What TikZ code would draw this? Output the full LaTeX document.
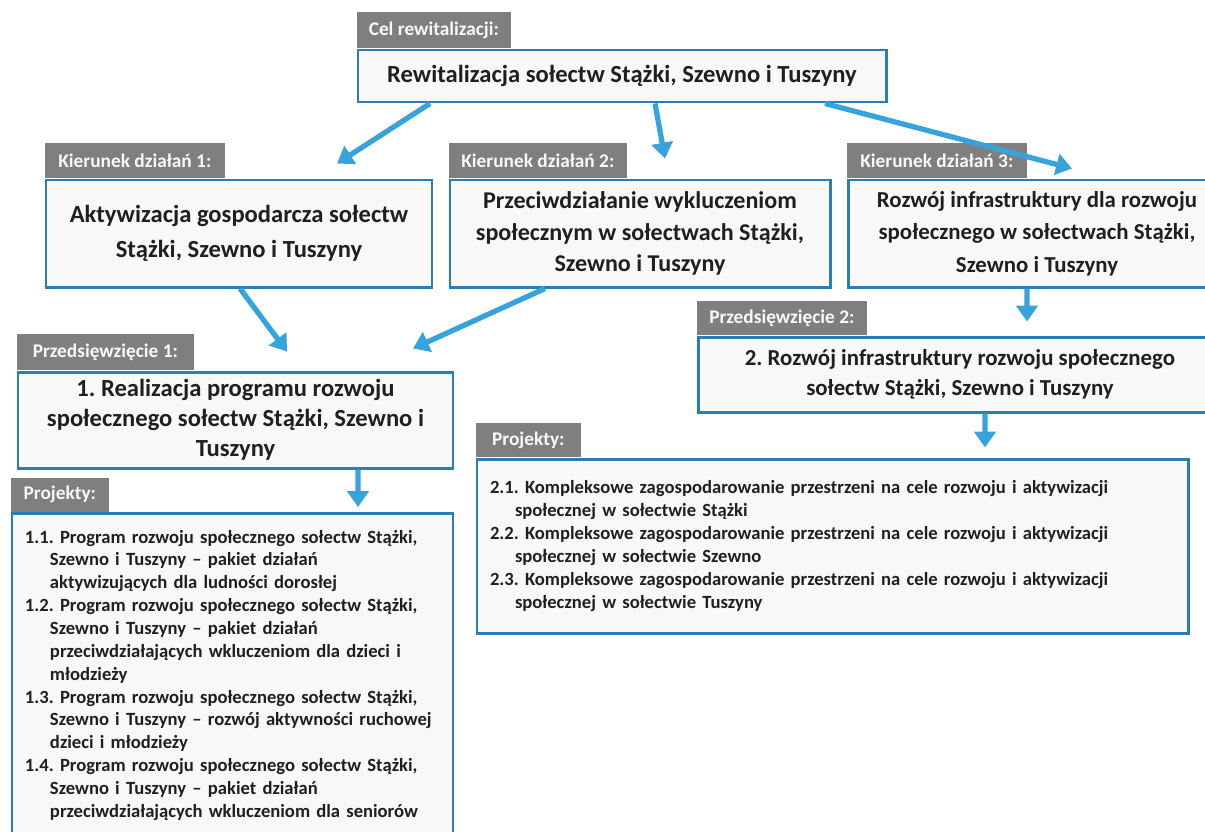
\documentclass[tikz,border=0pt]{standalone}
\usepackage{fontspec}
\setmainfont{Carlito}
\usetikzlibrary{arrows.meta, positioning}

\definecolor{frameblue}{HTML}{2B7DB5}
\definecolor{arrowblue}{HTML}{36A3DD}
\definecolor{taggray}{HTML}{7F7F7F}
\definecolor{boxfill}{HTML}{F8F8F8}

\tikzset{
  goal/.style={draw=frameblue, line width=1.7pt, fill=boxfill, align=center,
    inner sep=2pt, text=black!88, font=\bfseries\fontsize{14}{18}\selectfont},
  tag/.style={fill=taggray, text=white!95!gray, anchor=south west, inner sep=0pt,
    font=\bfseries\fontsize{11}{13}\selectfont},
  plist/.style={goal, align=left, inner xsep=0.26cm, inner ysep=0.33cm,
    font=\bfseries\fontsize{10.6}{13}\selectfont},
}
\newcommand{\hang}{\hangindent=0.5cm\hangafter=1 }
\frenchspacing

\begin{document}
\begin{tikzpicture}[>={Triangle[width=12pt,length=9pt]},
  link/.style={->, color=arrowblue, line width=3pt}]
\clip (0,0) rectangle (24.1,-16.62);

% the goal and the three directions
  \node[goal, minimum width=10.56cm, minimum height=1.04cm] (cel) at (12.44,-1.52)
{Rewitalizacja sołectw Stążki, Szewno i Tuszyny};
  \node[goal, minimum width=7.72cm, minimum height=2.14cm,
    font=\bfseries\fontsize{14}{19.5}\selectfont] (kd1) at (4.78,-4.67)
{Aktywizacja gospodarcza sołectw\\ Stążki, Szewno i Tuszyny};
  \node[goal, minimum width=7.6cm, minimum height=2.14cm,
    font=\bfseries\fontsize{13.7}{18}\selectfont] (kd2) at (12.8,-4.67)
{Przeciwdziałanie wykluczeniom\\ społecznym w sołectwach Stążki,\\ Szewno i Tuszyny};
  \node[goal, minimum width=7.56cm, minimum height=2.14cm,
    font=\bfseries\fontsize{13}{18.5}\selectfont] (kd3) at (20.74,-4.67)
{Rozwój infrastruktury dla rozwoju\\ społecznego w sołectwach Stążki,\\ Szewno i Tuszyny};

% the two undertakings
  \node[goal, minimum width=8.7cm, minimum height=1.92cm,
    font=\bfseries\fontsize{14}{17}\selectfont] (p1) at (4.71,-8.4)
{1. Realizacja programu rozwoju\\ społecznego sołectw Stążki, Szewno i\\ Tuszyny};
  \node[goal, minimum width=10.48cm, minimum height=1.5cm,
    font=\bfseries\fontsize{13}{17}\selectfont] (p2) at (19.2,-7.49)
{2. Rozwój infrastruktury rozwoju społecznego\\ sołectw Stążki, Szewno i Tuszyny};

% the projects
  \node[plist, text width=8.3cm, anchor=north] (pr1) at (4.65,-10.24)
{\hang 1.1. Program rozwoju społecznego sołectw Stążki,\newline Szewno i Tuszyny – pakiet działań\newline aktywizujących dla ludności dorosłej\par
 \hang 1.2. Program rozwoju społecznego sołectw Stążki,\newline Szewno i Tuszyny – pakiet działań\newline przeciwdziałających wkluczeniom dla dzieci i\newline młodzieży\par
 \hang 1.3. Program rozwoju społecznego sołectw Stążki,\newline Szewno i Tuszyny – rozwój aktywności ruchowej\newline dzieci i młodzieży\par
 \hang 1.4. Program rozwoju społecznego sołectw Stążki,\newline Szewno i Tuszyny – pakiet działań\newline przeciwdziałających wkluczeniom dla seniorów\par
 \vspace{0.4cm}};
  \node[plist, text width=13.7cm, minimum height=3.48cm, inner ysep=0.2cm] (pr2) at (16.65,-10.92)
{\hang 2.1. Kompleksowe zagospodarowanie przestrzeni na cele rozwoju i aktywizacji\newline społecznej w sołectwie Stążki\par
 \hang 2.2. Kompleksowe zagospodarowanie przestrzeni na cele rozwoju i aktywizacji\newline społecznej w sołectwie Szewno\par
 \hang 2.3. Kompleksowe zagospodarowanie przestrzeni na cele rozwoju i aktywizacji\newline społecznej w sołectwie Tuszyny\par};

% the grey tabs
  \node[tag, minimum width=3.08cm, minimum height=0.72cm] (celtag) at (cel.north west) {Cel rewitalizacji:};
  \node[tag, minimum width=3.6cm, minimum height=0.7cm] (kd1tag) at (kd1.north west) {Kierunek działań 1:};
  \node[tag, minimum width=3.56cm, minimum height=0.7cm] (kd2tag) at (kd2.north west) {Kierunek działań 2:};
  \node[tag, minimum width=3.6cm, minimum height=0.7cm] (kd3tag) at (kd3.north west) {Kierunek działań 3:};
  \node[tag, minimum width=3.54cm, minimum height=0.72cm] (p1tag) at (p1.north west) {Przedsięwzięcie 1:};
  \node[tag, minimum width=3.4cm, minimum height=0.68cm] (p2tag) at (p2.north west) {Przedsięwzięcie 2:};
  \node[tag, minimum width=1.96cm, minimum height=0.68cm] (pr1tag) at (pr1.north west) {Projekty:};
  \node[tag, minimum width=2.1cm, minimum height=0.68cm] (pr2tag) at (pr2.north west) {Projekty:};

% the links
  \path[link] ([xshift=-3.84cm]cel.south) edge ([xshift=1.96cm, yshift=0.3cm]kd1.north)
        ([xshift=0.66cm]cel.south) edge ([xshift=0.5cm, yshift=0.4cm]kd2.north)
        ([xshift=4.06cm]cel.south) edge ([xshift=0.7cm, yshift=0.2cm]kd3.north)
        ([xshift=0.02cm]kd1.south) edge ([xshift=1.03cm, yshift=0.38cm]p1.north)
        ([xshift=-1.9cm]kd2.south) edge ([xshift=3.55cm, yshift=0.44cm]p1.north)
        ([xshift=-0.2cm]kd3.south) edge ([xshift=1.34cm, yshift=0.28cm]p2.north)
        ([xshift=2.45cm]p1.south) edge ([xshift=2.51cm, yshift=0.1cm]pr1.north)
        ([xshift=0.5cm]p2.south) edge ([xshift=3.05cm, yshift=0.2cm]pr2.north);

\end{tikzpicture}
\end{document}
